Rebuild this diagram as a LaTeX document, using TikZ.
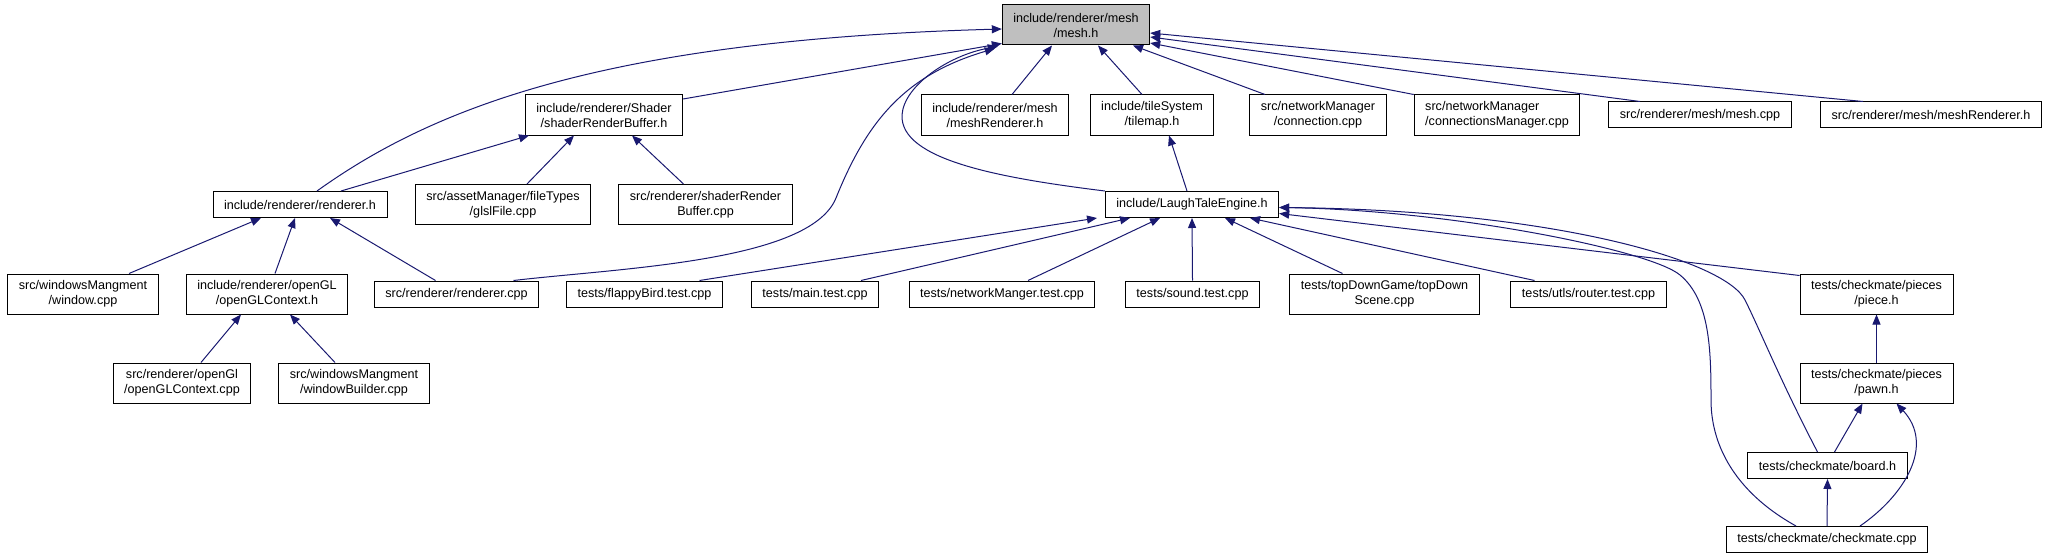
\documentclass[tikz,border=0pt]{standalone}
\usepackage{fontspec}
\setmainfont{Liberation Sans}
\usetikzlibrary{arrows.meta}
\definecolor{edgeblue}{HTML}{191970}
\definecolor{rootgray}{HTML}{BFBFBF}

\begin{document}
\begin{tikzpicture}[x=1pt,y=-1pt,font=\fontsize{12.6}{15}\selectfont,
  filebox/.style={draw=black,fill=white,line width=1pt,inner xsep=11pt,inner ysep=0pt,minimum height=26pt},
  filebox2/.style={filebox,align=center,minimum height=40pt},
  incl/.style={draw=edgeblue,line width=1pt,-{Triangle[length=10pt,width=8pt]}}]
\useasboundingbox (0,0) rectangle (2049,559);
\node[filebox2,fill=rootgray] (mesh) at (1076,25) {include/renderer/mesh\\/mesh.h};
\node[filebox2] (shbuf) at (604,115) {include/renderer/Shader\\/shaderRenderBuffer.h};
\node[filebox2] (mrend) at (995,115) {include/renderer/mesh\\/meshRenderer.h};
\node[filebox2] (tilemap) at (1152,115) {include/tileSystem\\/tilemap.h};
\node[filebox2] (conn) at (1318,115) {src/networkManager\\/connection.cpp};
\node[filebox2,align=left] (connmgr) at (1497,115) {src/networkManager\\/connectionsManager.cpp};
\node[filebox] (meshcpp) at (1700,115) {src/renderer/mesh/mesh.cpp};
\node[filebox] (mrendsrc) at (1931,115) {src/renderer/mesh/meshRenderer.h};
\node[filebox] (rend) at (300,204.5) {include/renderer/renderer.h};
\node[filebox2] (glsl) at (503,204.5) {src/assetManager/fileTypes\\/glslFile.cpp};
\node[filebox2] (shbufcpp) at (705.5,204.5) {src/renderer/shaderRender\\Buffer.cpp};
\node[filebox] (engine) at (1192,204.5) {include/LaughTaleEngine.h};
\node[filebox2] (window) at (83,294) {src/windowsMangment\\/window.cpp};
\node[filebox2] (glctx) at (267,294) {include/renderer/openGL\\/openGLContext.h};
\node[filebox] (rendcpp) at (456.5,294) {src/renderer/renderer.cpp};
\node[filebox] (flappy) at (644.5,294) {tests/flappyBird.test.cpp};
\node[filebox] (maintest) at (815,294) {tests/main.test.cpp};
\node[filebox] (nettest) at (1002,294) {tests/networkManger.test.cpp};
\node[filebox] (sound) at (1192.5,294) {tests/sound.test.cpp};
\node[filebox2] (topdown) at (1384.5,294) {tests/topDownGame/topDown\\Scene.cpp};
\node[filebox] (router) at (1588.5,294) {tests/utls/router.test.cpp};
\node[filebox2] (piece) at (1876.5,294) {tests/checkmate/pieces\\/piece.h};
\node[filebox2] (glctxcpp) at (182,383) {src/renderer/openGl\\/openGLContext.cpp};
\node[filebox2] (winbuild) at (354,383) {src/windowsMangment\\/windowBuilder.cpp};
\node[filebox2] (pawn) at (1876.5,383) {tests/checkmate/pieces\\/pawn.h};
\node[filebox] (board) at (1827.5,465.5) {tests/checkmate/board.h};
\node[filebox] (checkmate) at (1827,539.5) {tests/checkmate/checkmate.cpp};

\draw[incl] ([xshift=17pt]rend.north) .. controls (430,110) and (600,40) .. ([yshift=-4pt]mesh.west);
\draw[incl] ([yshift=16pt]shbuf.east) -- ([yshift=2pt]mesh.south west);
\draw[incl] ([xshift=41pt]rend.north) -- ([xshift=-75pt]shbuf.south);
\draw[incl] ([xshift=24pt]glsl.north) -- ([xshift=-30pt]shbuf.south);
\draw[incl] ([xshift=-22pt]shbufcpp.north) -- ([xshift=28pt]shbuf.south);
\draw[incl] ([xshift=57pt]rendcpp.north) .. controls (620,268) and (810,262) .. (836,198)
  .. controls (867,121) and (905,75) .. ([xshift=-7pt,yshift=-3pt]mesh.south west);
\draw[incl] (engine.north west) .. controls (1000,178) and (900,160) .. (902,115)
  .. controls (904,85) and (950,55) .. ([xshift=-4pt,yshift=-1pt]mesh.south west);
\draw[incl] ([xshift=17pt]mrend.north) -- ([xshift=-24pt]mesh.south);
\draw[incl] ([xshift=-10pt]tilemap.north) -- ([xshift=22pt]mesh.south);
\draw[incl] ([xshift=-5pt]engine.north) -- ([xshift=17pt]tilemap.south);
\draw[incl] ([xshift=-53pt]conn.north) -- ([xshift=57pt]mesh.south);
\draw[incl] (connmgr.north west) -- ([yshift=-18pt]mesh.east);
\draw[incl] ([xshift=-60pt]meshcpp.north) -- ([yshift=-12pt]mesh.east);
\draw[incl] ([xshift=-68pt]mrendsrc.north) -- ([yshift=-8pt]mesh.east);
\draw[incl] ([xshift=46pt]window.north) -- ([xshift=-39pt]rend.south);
\draw[incl] ([xshift=8pt]glctx.north) -- ([xshift=-5pt]rend.south);
\draw[incl] ([xshift=-21pt]rendcpp.north) -- ([xshift=30pt]rend.south);
\draw[incl] ([xshift=19pt]glctxcpp.north) -- ([xshift=-26pt]glctx.south);
\draw[incl] ([xshift=-19pt]winbuild.north) -- ([xshift=23pt]glctx.south);
\draw[incl] ([xshift=55pt]flappy.north) -- ([xshift=-95pt]engine.south);
\draw[incl] ([xshift=46pt]maintest.north) -- ([xshift=-62pt]engine.south);
\draw[incl] ([xshift=26pt]nettest.north) -- ([xshift=-32pt]engine.south);
\draw[incl] (sound.north) -- (engine.south);
\draw[incl] ([xshift=-42pt]topdown.north) -- ([xshift=33pt]engine.south);
\draw[incl] ([xshift=-54pt]router.north) -- ([xshift=58pt]engine.south);
\draw[incl] ([yshift=-2pt]piece.north west) -- ([yshift=-9pt]engine.east);
\draw[incl] ([xshift=-10pt]board.north) .. controls (1780,380) and (1760,330) .. (1745,300)
  .. controls (1725,260) and (1550,210) .. ([yshift=-3pt]engine.east);
\draw[incl] ([xshift=-31pt]checkmate.north) .. controls (1740,495) and (1711,450) .. (1711,400)
  .. controls (1711,350) and (1710,300) .. (1680,275)
  .. controls (1650,250) and (1450,210) .. ([yshift=-3pt]engine.east);
\draw[incl] (pawn.north) -- (piece.south);
\draw[incl] ([xshift=7pt]board.north) -- ([xshift=-14pt]pawn.south);
\draw[incl] (checkmate.north) -- (board.south);
\draw[incl] ([xshift=33pt]checkmate.north) .. controls (1905,495) and (1935,445) .. ([xshift=20pt]pawn.south);
\end{tikzpicture}
\end{document}
